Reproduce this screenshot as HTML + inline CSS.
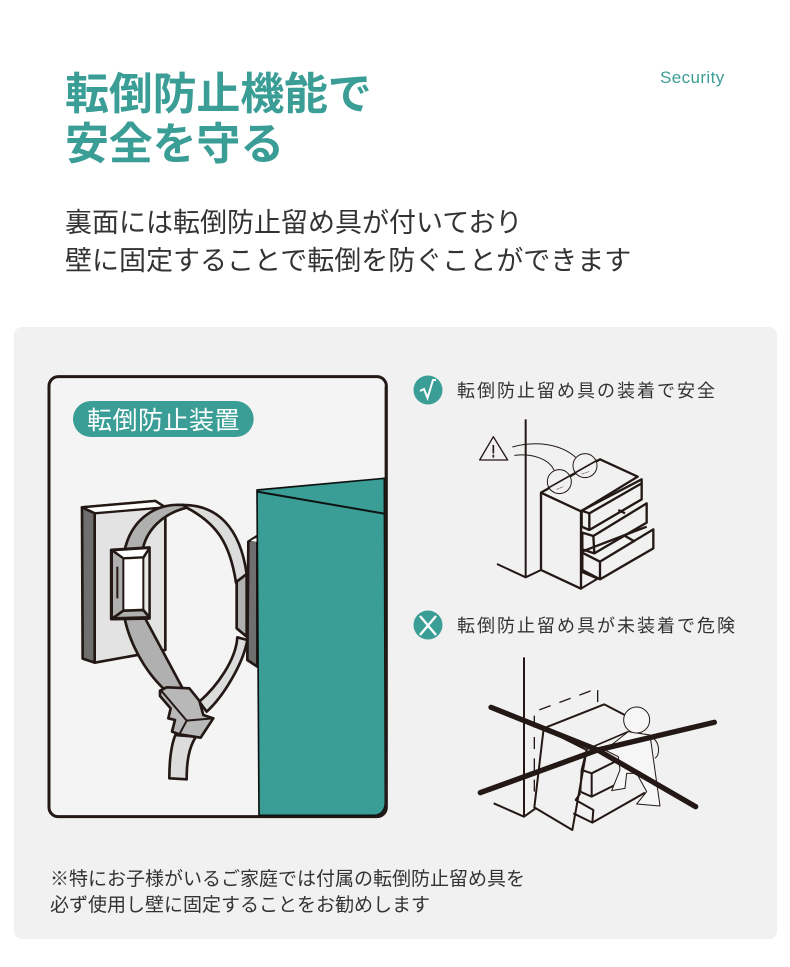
<!DOCTYPE html>
<html lang="ja"><head><meta charset="utf-8">
<style>
html,body{margin:0;padding:0;background:#fff}
body{width:790px;height:967px;overflow:hidden;position:relative;font-family:"Liberation Sans","Noto Sans CJK JP",sans-serif}
.t{position:absolute;white-space:nowrap;line-height:1;font-family:"Noto Sans CJK JP",sans-serif}
</style></head><body>
<div style="position:absolute;left:14px;top:327px;width:763px;height:612px;background:#f1f1f1;border-radius:8px"></div>
<div class="t" style="left:65px;top:68px;font-size:44px;font-weight:700;color:#3a9e96;letter-spacing:-.2px">転倒防止機能で</div>
<div class="t" style="left:65px;top:118px;font-size:44px;font-weight:700;color:#3a9e96;letter-spacing:-.2px">安全を守る</div>
<div class="t" style="left:660px;top:69px;font-size:17px;color:#3a9e96;font-family:'Liberation Sans',sans-serif;letter-spacing:.4px">Security</div>
<div class="t" style="left:65px;top:207px;font-size:27px;color:#333">裏面には転倒防止留め具が付いており</div>
<div class="t" style="left:65px;top:245px;font-size:27px;color:#333">壁に固定することで転倒を防ぐことができます</div>

<svg style="position:absolute;left:0;top:0" width="790" height="967" viewBox="0 0 790 967">
<g transform="translate(40,370) scale(.33333)" stroke-linejoin="round">
<rect x="27" y="20" width="1012" height="1320" rx="28" fill="#f5f4f5" stroke="#231815" stroke-width="9"/>
<rect x="99" y="93" width="542" height="108" rx="54" fill="#3a9e96"/>
<!-- plate -->
<path d="M126 412L346 393L376 412L376 840L164 878L164 430Z" fill="#e3e3e3" stroke="#231815" stroke-width="8"/>
<path d="M126 412L346 393L376 412L164 430Z" fill="#fff" stroke="#231815" stroke-width="7"/>
<path d="M126 412L164 430L164 878L128 866Z" fill="#6f6f6f" stroke="#231815" stroke-width="8"/>
<rect x="381" y="415" width="269" height="520" fill="#f5f4f5"/>
<!-- right bracket -->
<path d="M625 515L652 498L652 890L622 870Z" fill="#6f6f6f" stroke="#231815" stroke-width="8"/>
<path d="M632 512L652 502L652 516Z" fill="#fff"/>
<!-- right strap -->
<path d="M430 405C530 405 600 470 620 612L588 638C570 520 530 460 440 413Z" fill="#dcdcdc" stroke="#231815" stroke-width="8"/>
<path d="M590 635L620 612L620 800L590 775Z" fill="#b0b0b0" stroke="#231815" stroke-width="8"/>
<path d="M592 802L622 810C610 880 550 980 500 1025L478 995C530 950 588 870 592 802Z" fill="#dcdcdc" stroke="#231815" stroke-width="8"/>
<!-- left strap -->
<path d="M430 405C345 398 270 450 252 550L306 550C315 480 370 430 440 413Z" fill="#b0b0b0" stroke="#231815" stroke-width="8"/>
<path d="M252 735C265 810 310 900 375 960L428 955L310 735Z" fill="#b0b0b0" stroke="#231815" stroke-width="8"/>
<!-- buckle -->
<path d="M214 540L328 533L328 745L214 747Z" fill="#fff" stroke="#231815" stroke-width="9"/>
<path d="M216 542L250 565L250 722L216 745Z" fill="#b0b0b0" stroke="#231815" stroke-width="6"/>
<path d="M310 565L328 535L328 745L310 722Z" fill="#e8e8e8" stroke="#231815" stroke-width="6"/>
<path d="M216 540L250 565L310 562L328 535" fill="none" stroke="#231815" stroke-width="7"/>
<path d="M250 722L310 720L328 742L218 745Z" fill="#b0b0b0" stroke="#231815" stroke-width="8"/>
<path d="M232 590L232 685" stroke="#231815" stroke-width="6" fill="none"/>
<!-- lower tail -->
<path d="M406 1095C392 1130 388 1180 388 1225L440 1228C440 1180 445 1135 468 1100Z" fill="#dcdcdc" stroke="#231815" stroke-width="8"/>
<!-- clip -->
<path d="M360 962L380 952L448 955L478 992L490 1035L520 1045L482 1103L418 1093L396 1085L405 1050L385 1045L392 1015L360 978Z" fill="#b8b8b8" stroke="#231815" stroke-width="8"/>
<path d="M362 960L440 1052L418 1093M440 1052L518 1045" fill="none" stroke="#231815" stroke-width="6"/>
<!-- teal box -->
<path d="M651 360L1033 325L1036 1300Q1033 1336 1000 1336L657 1336Z" fill="#3a9e96" stroke="#0d1311" stroke-width="5"/>
<path d="M651 365L1033 431" fill="none" stroke="#0d1311" stroke-width="6"/>
<path d="M1038 50L1038 1308Q1038 1338 1008 1338" fill="none" stroke="#231815" stroke-width="8"/>
</g>

<!-- check icon -->
<circle cx="428" cy="390" r="14.5" fill="#3a9e96"/>
<path d="M420 391L424 389L427.500 398L433 380L436 380" fill="none" stroke="#fff" stroke-width="2"/>
<!-- top illustration -->
<g transform="translate(405,370) scale(.33333)" fill="none" stroke="#231815" stroke-linejoin="round">
<path d="M362 148L362 622M276 582L362 622L408 600" stroke-width="6"/>
<path d="M408 368L408 600L528 656L528 424Z" stroke-width="7"/>
<path d="M408 368L585 268L698 320L528 424" stroke-width="7"/>
<path d="M528 656L578 626M530 606L578 626" stroke-width="6"/>
<path d="M530 422L710 328L710 388L553 480L530 470Z M553 430L553 480M530 422L553 430M553 430L710 340" stroke-width="7"/>
<path d="M532 488L565 498L725 400L725 458L568 550L532 538ZM565 498L568 550M640 420L660 430" stroke-width="7"/>
<path d="M532 548L585 575L745 478L745 535L585 628L532 600ZM585 575L585 628M655 495L690 515M530 545L725 470" stroke-width="7"/>
<circle cx="463" cy="335" r="36" stroke-width="3" fill="#f1f1f1"/>
<circle cx="540" cy="287" r="36" stroke-width="3" fill="#f1f1f1"/>
<path d="M428 355L578 270" stroke-width="5"/>
<path d="M455 358L475 350M530 312L552 305" stroke-width="2" stroke-dasharray="3 2"/>
<path d="M322 231C400 210 470 225 512 262M328 256C380 250 430 265 447 300" stroke-width="3"/>
<path d="M265 200L224 270L308 270Z" stroke-width="4"/>
<path d="M265 225L265 250M265 254L265 263" stroke-width="5"/>
</g>
<text x="457" y="397" font-family="'Noto Sans CJK JP',sans-serif" font-size="18" letter-spacing="2" fill="#333">転倒防止留め具の装着で安全</text>

<!-- cross icon -->
<circle cx="428" cy="625" r="14.5" fill="#3a9e96"/>
<path d="M420 616L436 635M436 616L420 635" fill="none" stroke="#fff" stroke-width="2.400"/>
<!-- bottom illustration -->
<g transform="translate(405,600) scale(.33333)" fill="none" stroke="#231815" stroke-linejoin="round">
<path d="M357 172L357 650M266 610L357 650L392 625" stroke-width="6"/>
<path d="M388 575L388 335L578 265L578 320" stroke-width="4" stroke-dasharray="36 28"/>
<path d="M416 385L388 622L502 690L545 450M416 385L598 313L665 348M416 385L545 450" stroke-width="6"/>
<path d="M545 450L530 510L560 520L680 460M530 510L526 575L560 590L650 545M560 520L560 590M526 580L512 600L565 630L562 668L505 640M562 668L720 578" stroke-width="6"/>
<path d="M545 448L670 395" stroke-width="5"/>
<path d="M670 395L735 405L765 618L695 612L725 575L695 520L665 520L660 565L620 572L645 510L640 470L600 450Z" fill="#f6f6f6" stroke-width="3"/>
<path d="M745 415C765 430 765 465 750 475" stroke-width="3"/>
<circle cx="695" cy="360" r="39" fill="#f6f6f6" stroke-width="3"/>
<path d="M258 322L578 450L872 620" stroke-width="16" stroke-linecap="round"/>
<path d="M226 578L578 450L928 367" stroke-width="16" stroke-linecap="round"/>
</g>
<text x="457" y="632" font-family="'Noto Sans CJK JP',sans-serif" font-size="18" letter-spacing="2" fill="#333">転倒防止留め具が未装着で危険</text>
<text x="87" y="429" font-family="'Noto Sans CJK JP',sans-serif" font-size="25" letter-spacing=".5" fill="#fff">転倒防止装置</text>
</svg>

<div class="t" style="left:50px;top:868px;font-size:19px;color:#333">※特にお子様がいるご家庭では付属の転倒防止留め具を</div>
<div class="t" style="left:50px;top:894px;font-size:19px;color:#333">必ず使用し壁に固定することをお勧めします</div>
</body></html>
